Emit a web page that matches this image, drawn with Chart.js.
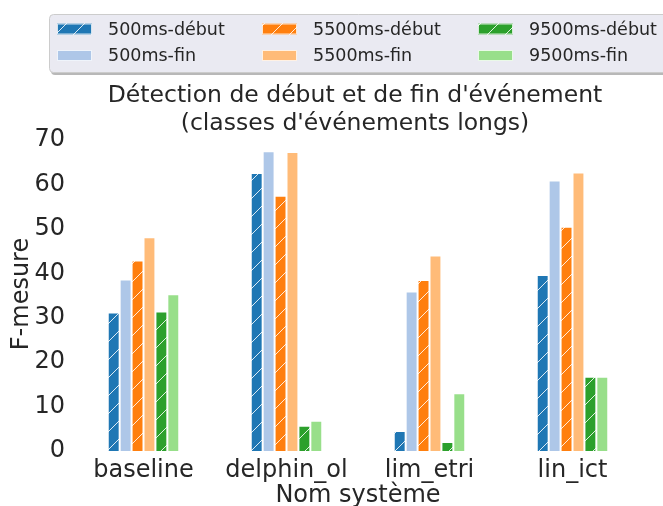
<!DOCTYPE html>
<html lang="fr">
<head>
    <meta charset="UTF-8">
    <script src="https://cdn.jsdelivr.net/npm/chart.js@4/dist/chart.umd.min.js"></script>
    <title>F-mesure</title>
    <style>
        html, body { margin: 0; padding: 0; background: #ffffff; }
    </style>
</head>
<body>
    <canvas id="grafico" width="663" height="506"></canvas>

<script>
    // --- données ---
    var systemes = ['baseline', 'delphin_ol', 'lim_etri', 'lin_ict'];
    var debut500  = [31.2, 62.6, 4.5, 39.6];
    var fin500    = [38.6, 67.5, 35.9, 60.9];
    var debut5500 = [42.9, 57.5, 38.5, 50.5];
    var fin5500   = [48.1, 67.3, 44.0, 62.7];
    var debut9500 = [31.4, 5.7, 2.0, 16.7];
    var fin9500   = [35.3, 6.8, 13.0, 16.7];
    var yTicks = [0, 10, 20, 30, 40, 50, 60, 70];
    var titre = ["Détection de début et de fin d'événement", "(classes d'événements longs)"];

    var texte = '#262626';
    var police = 'DejaVu Sans';

    // motif hachuré "/" (comme hatch='/' de matplotlib)
    function hachure(couleur) {
        var c = document.createElement('canvas');
        c.width = 18; c.height = 18;
        var g = c.getContext('2d');
        g.fillStyle = couleur;
        g.fillRect(0, 0, 18, 18);
        g.strokeStyle = 'rgba(255,255,255,0.85)';
        g.lineWidth = 1;
        for (var k = -18; k <= 18; k += 18) {
            g.beginPath();
            g.moveTo(k, 18);
            g.lineTo(k + 18, 0);
            g.stroke();
        }
        return g.createPattern(c, 'repeat');
    }

    function serie(label, valeurs, couleur, hache) {
        return {
            label: label,
            data: valeurs,
            backgroundColor: hache ? hachure(couleur) : couleur,
            borderColor: '#ffffff',
            borderWidth: 1,
            categoryPercentage: 0.5,
            barPercentage: 1.0
        };
    }

    var data = {
        labels: systemes,
        datasets: [
            serie('500ms-début', debut500, '#1f77b4', true),
            serie('500ms-fin', fin500, '#aec7e8', false),
            serie('5500ms-début', debut5500, '#ff7f0e', true),
            serie('5500ms-fin', fin5500, '#ffbb78', false),
            serie('9500ms-début', debut9500, '#2ca02c', true),
            serie('9500ms-fin', fin9500, '#98df8a', false)
        ]
    };

    // titre au-dessus du graphique + légende en 3 colonnes (début en haut, fin en bas)
    var decor = {
        id: 'decor',
        afterDraw: function(chart) {
            var ctx = chart.ctx;
            var zone = chart.chartArea;
            ctx.save();

            ctx.fillStyle = texte;
            ctx.font = '23.5px "' + police + '"';
            ctx.textAlign = 'center';
            ctx.textBaseline = 'middle';
            titre.forEach(function(ligne, i) {
                ctx.fillText(ligne, (zone.left + zone.right) / 2 - 3, 96 + i * 27.6);
            });

            ctx.fillStyle = 'rgba(0,0,0,0.28)';
            ctx.beginPath();
            ctx.roundRect(51, 16, 640, 59, 4);
            ctx.fill();
            ctx.fillStyle = '#eaeaf2';
            ctx.strokeStyle = '#cccccc';
            ctx.lineWidth = 1;
            ctx.beginPath();
            ctx.roundRect(49.5, 14.5, 640, 58, 4);
            ctx.fill();
            ctx.stroke();

            var xCarre = [57, 262, 478];
            var xTexte = [108, 313, 529];
            var yLigne = [30, 56.5];
            ctx.font = '17.5px "' + police + '"';
            ctx.textAlign = 'left';
            chart.data.datasets.forEach(function(ds, k) {
                var col = Math.floor(k / 2), lig = k % 2;
                ctx.fillStyle = ds.backgroundColor;
                ctx.fillRect(xCarre[col], yLigne[lig] - 6.5, 35, 11);
                ctx.strokeStyle = 'rgba(255,255,255,0.8)';
                ctx.strokeRect(xCarre[col] + 0.5, yLigne[lig] - 6, 34, 10);
                ctx.fillStyle = texte;
                ctx.fillText(ds.label, xTexte[col], yLigne[lig]);
            });
            ctx.restore();
        }
    };

    var options = {
        responsive: false,
        animation: false,
        layout: { padding: { top: 137, right: 19, left: 0, bottom: 0 } },
        plugins: {
            legend: { display: false },
            tooltip: { enabled: false },
            title: { display: false }
        },
        scales: {
            x: {
                grid: { display: false, drawTicks: false },
                border: { display: false },
                ticks: { color: texte, font: { family: police, size: 24 }, padding: 5, maxRotation: 0 },
                title: {
                    display: true,
                    text: 'Nom système',
                    color: texte,
                    font: { family: police, size: 24, lineHeight: 1.2 },
                    padding: { top: 0, bottom: -4.5 }
                },
                afterFit: function(s) { s.height = 55; }
            },
            y: {
                min: 0,
                max: 70.7,
                grid: { display: false, drawTicks: false },
                border: { display: false },
                ticks: { color: texte, font: { family: police, size: 24 }, padding: 7 },
                afterBuildTicks: function(s) {
                    s.ticks = yTicks.map(function(v) { return { value: v }; });
                },
                title: {
                    display: true,
                    text: 'F-mesure',
                    color: texte,
                    font: { family: police, size: 24, lineHeight: 1.2 },
                    padding: { top: 7, bottom: 0 }
                },
                afterFit: function(s) { s.width = 72; }
            }
        }
    };

    new Chart('grafico', { type: 'bar', data: data, options: options, plugins: [decor] });
</script>
</body>
</html>
